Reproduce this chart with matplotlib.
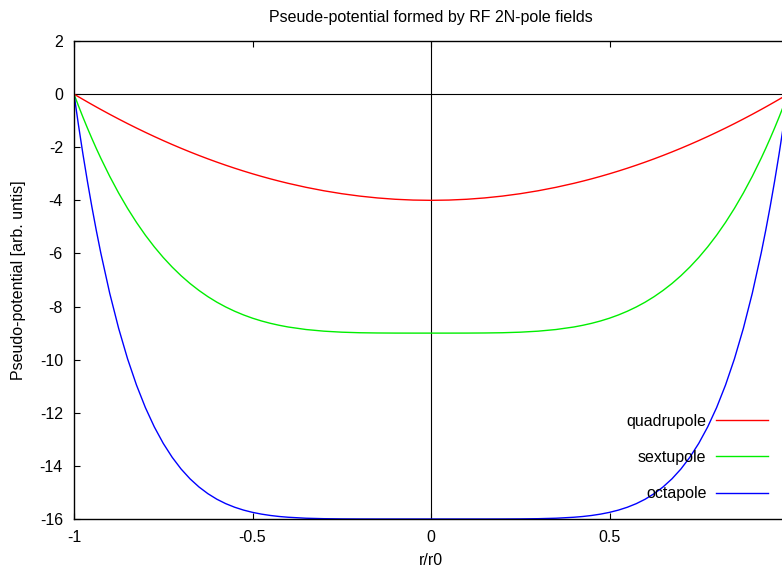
import numpy as np
import matplotlib
matplotlib.use('Agg')
import matplotlib.pyplot as plt

plt.rcParams['font.family'] = ['Liberation Sans', 'DejaVu Sans']
plt.rcParams['font.size'] = 11.5

# half-range samples (r >= 0), curves are symmetric about r = 0
r_half = [0, 0.05, 0.1, 0.15, 0.2, 0.25, 0.3, 0.35, 0.4, 0.425, 0.45, 0.475, 0.5,
          0.525, 0.55, 0.575, 0.6, 0.625, 0.65, 0.675, 0.7, 0.725, 0.75, 0.775, 0.8,
          0.825, 0.85, 0.875, 0.9, 0.925, 0.9375, 0.95, 0.9625, 0.975, 0.9875, 1.0]
quad_half = [-4, -3.99, -3.96, -3.91, -3.84, -3.75, -3.64, -3.51, -3.36, -3.2775, -3.19,
             -3.0975, -3.0, -2.8975, -2.79, -2.6775, -2.56, -2.4375, -2.31, -2.1775,
             -2.04, -1.8975, -1.75, -1.5975, -1.44, -1.2775, -1.11, -0.9375, -0.76,
             -0.5775, -0.4844, -0.39, -0.2944, -0.1975, -0.0994, 0]
sext_half = [-9, -9.0, -8.999, -8.995, -8.986, -8.965, -8.927, -8.865, -8.770, -8.706,
             -8.631, -8.542, -8.438, -8.316, -8.176, -8.016, -7.834, -7.627, -7.393,
             -7.132, -6.839, -6.513, -6.152, -5.753, -5.314, -4.831, -4.302, -3.724,
             -3.095, -2.411, -2.048, -1.669, -1.276, -0.867, -0.442, 0]
oct_half = [-16, -16, -16, -16, -15.999, -15.996, -15.988, -15.971, -15.934, -15.906,
            -15.867, -15.816, -15.75, -15.665, -15.557, -15.422, -15.254, -15.046,
            -14.793, -14.487, -14.118, -13.676, -13.152, -12.533, -11.806, -10.955,
            -9.966, -8.819, -7.497, -5.978, -5.137, -4.239, -3.279, -2.255, -1.163, 0]

labels = ['quadrupole', 'sextupole', 'octapole']
colors = ['#ff0000', '#00ee00', '#0000ff']


def mirror(vals):
    return list(vals[:0:-1]) + list(vals)


r = [-v for v in r_half[:0:-1]] + list(r_half)
series = [mirror(quad_half), mirror(sext_half), mirror(oct_half)]

fig = plt.figure(figsize=(7.82, 5.68), dpi=100)
ax = fig.add_axes([74 / 782, 49 / 568, 714 / 782, 478 / 568])

ax.axhline(0, color='black', lw=0.8, zorder=1)
ax.axvline(0, color='black', lw=0.8, zorder=1)

for vals, lab, c in zip(series, labels, colors):
    ax.plot(r, vals, color=c, lw=1.0, label=lab, zorder=2)

ax.set_xlim(-1, 1)
ax.set_ylim(-16, 2)
# the label of the last tick (1) falls outside the cropped picture
ax.set_xticks([-1, -0.5, 0, 0.5, 1])
ax.set_xticklabels(['-1', '-0.5', '0', '0.5', ''])
ax.set_yticks(range(-16, 3, 2))
ax.set_yticklabels([str(v) for v in range(-16, 3, 2)])
ax.tick_params(direction='in', length=4.5, width=0.8, top=True, right=True, pad=8)
for s in ax.spines.values():
    s.set_linewidth(1.0)

ax.set_title('Pseude-potential formed by RF 2N-pole fields', fontsize=11.5, pad=14)
ax.set_xlabel('r/r0', labelpad=6)
ax.set_ylabel('Pseudo-potential [arb. untis]', labelpad=10)

ax.legend(loc='lower right', bbox_to_anchor=(0.972, 0.037), frameon=False,
          markerfirst=False, handlelength=3.25, handletextpad=0.6,
          labelspacing=1.33, borderpad=0, borderaxespad=0)

fig.savefig('out.png', dpi=100)
